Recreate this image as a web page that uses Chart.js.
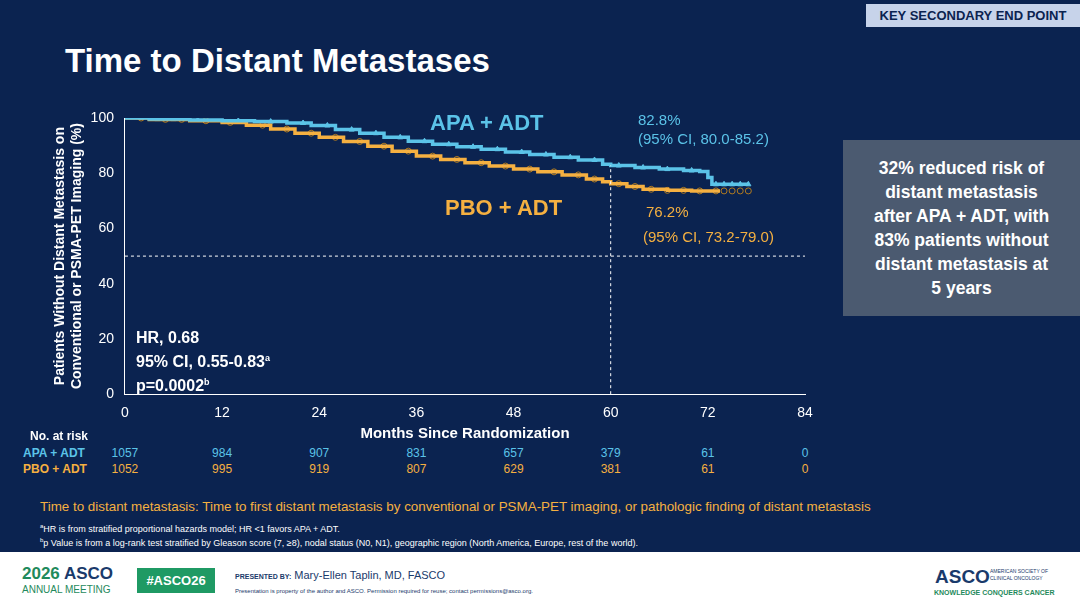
<!DOCTYPE html>
<html><head><meta charset="utf-8">
<script src="https://cdn.jsdelivr.net/npm/chart.js@4"></script>
<style>
body{margin:0;width:1080px;height:608px;overflow:hidden;background:#0b2350;font-family:Arial,"Liberation Sans",sans-serif;position:relative;color:#fff}
.abs{position:absolute}
#wrap{left:30px;top:100px;width:800px;height:345px}
.foot{left:0;top:552px;width:1080px;height:56px;background:#fff;color:#1a3a6b}
</style></head><body>
<div class="abs" style="right:0;top:4px;width:214px;height:23px;background:#c7d3ea;color:#0b2350;font-weight:bold;font-size:13px;line-height:23px;text-align:center">KEY SECONDARY END POINT</div>
<div class="abs" style="left:65px;top:42px;font-size:33px;font-weight:bold">Time to Distant Metastases</div>
<div class="abs" id="wrap"><canvas id="c"></canvas></div>
<div class="abs" style="left:430px;top:110px;font-size:22px;font-weight:bold;color:#5bc3e8">APA + ADT</div>
<div class="abs" style="left:638px;top:110px;font-size:15px;color:#5bc3e8;line-height:19px">82.8%<br>(95% CI, 80.0-85.2)</div>
<div class="abs" style="left:445px;top:195px;font-size:22px;font-weight:bold;color:#f5b041">PBO + ADT</div>
<div class="abs" style="left:646px;top:203px;font-size:15px;color:#f5b041">76.2%</div>
<div class="abs" style="left:643px;top:228px;font-size:15px;color:#f5b041">(95% CI, 73.2-79.0)</div>
<div class="abs" style="left:136px;top:327px;font-size:16px;font-weight:bold;line-height:21px">HR, 0.68<br>95% CI, 0.55-0.83<sup style="font-size:9px">a</sup><br>p=0.0002<sup style="font-size:9px">b</sup></div>
<div class="abs" style="left:843px;top:140px;width:237px;height:176px;background:#4b5a70;font-size:17.5px;font-weight:bold;text-align:center;line-height:24px;box-sizing:border-box;padding:16px 10px 0">32% reduced risk of<br>distant metastasis<br>after APA + ADT, with<br>83% patients without<br>distant metastasis at<br>5 years</div>
<div class="abs" style="left:30px;top:429px;font-size:12px;font-weight:bold">No. at risk</div>
<div class="abs" style="left:23px;top:446px;font-size:12px;font-weight:bold;color:#5bc3e8">APA + ADT</div>
<div class="abs" style="left:23px;top:462px;font-size:12px;font-weight:bold;color:#f5b041">PBO + ADT</div>
<div id="risk"></div>
<div class="abs" style="left:40px;top:499px;font-size:13.4px;color:#f5b041">Time to distant metastasis: Time to first distant metastasis by conventional or PSMA-PET imaging, or pathologic finding of distant metastasis</div>
<div class="abs" style="left:40px;top:522px;font-size:9px;line-height:14px"><sup style="font-size:6px;line-height:0">a</sup>HR is from stratified proportional hazards model; HR &lt;1 favors APA + ADT.<br><sup style="font-size:6px;line-height:0">b</sup>p Value is from a log-rank test stratified by Gleason score (7, ≥8), nodal status (N0, N1), geographic region (North America, Europe, rest of the world).</div>
<div class="abs foot">
 <div class="abs" style="left:22px;top:12px;font-size:17px;font-weight:bold;color:#1f8a5c">2026 <span style="color:#1a3a6b">ASCO</span></div>
 <div class="abs" style="left:22px;top:32px;font-size:10px;color:#1f8a5c">ANNUAL MEETING</div>
 <div class="abs" style="left:137px;top:16px;width:78px;height:25px;background:#1f9a64;color:#fff;font-size:13px;font-weight:bold;text-align:center;line-height:25px">#ASCO26</div>
 <div class="abs" style="left:235px;top:17px;font-size:11px"><span style="font-size:7px;font-weight:bold">PRESENTED BY:</span> Mary-Ellen Taplin, MD, FASCO</div>
 <div class="abs" style="left:235px;top:36px;font-size:6px">Presentation is property of the author and ASCO. Permission required for reuse; contact permissions@asco.org.</div>
 <div class="abs" style="left:935px;top:14px;font-size:19px;font-weight:bold">ASCO</div>
 <div class="abs" style="left:990px;top:16px;font-size:5px;line-height:7px">AMERICAN SOCIETY OF<br>CLINICAL ONCOLOGY</div>
 <div class="abs" style="left:934px;top:37px;font-size:7px;font-weight:bold;color:#1f8a5c">KNOWLEDGE CONQUERS CANCER</div>
</div>
<script>
const months = [0, 12, 24, 36, 48, 60, 72, 84];
const riskApa = [1057, 984, 907, 831, 657, 379, 61, 0];
const riskPbo = [1052, 995, 919, 807, 629, 381, 61, 0];
const apaT = [0, 3, 8, 12, 16, 20, 23, 26, 29, 32, 35, 38, 41, 44, 47, 50, 53, 56, 59, 60, 63, 66, 69, 71, 72, 72.5, 77];
const apaS = [100, 99.6, 99.3, 99.0, 98.7, 98.2, 97.3, 95.8, 94.5, 93.0, 91.6, 90.5, 89.6, 88.7, 87.7, 86.8, 85.8, 84.8, 83.3, 82.8, 82.1, 81.5, 81.0, 80.6, 78.5, 76.0, 76.0];
const pboT = [0, 3, 8, 12, 15, 18, 21, 24, 27, 30, 33, 36, 39, 42, 45, 48, 51, 54, 57, 59, 60, 62, 64, 67, 70, 73.5];
const pboS = [100, 99.5, 99.0, 98.4, 97.4, 96.0, 94.5, 93.0, 91.5, 89.8, 88.0, 86.2, 85.0, 83.8, 82.6, 81.5, 80.5, 79.4, 77.9, 76.9, 76.2, 75.2, 74.2, 73.8, 73.6, 73.6];
const apaCens = [2, 4, 6, 9, 14, 18, 22, 25, 28, 31, 34, 37, 40, 43, 46, 49, 52, 55, 58, 61, 64, 67, 70, 73, 74, 75, 76, 77];
const pboCens = [2, 5, 7, 10, 13, 17, 20, 23, 26, 29, 32, 35, 38, 41, 44, 47, 50, 53, 56, 58, 61, 63, 65, 67, 69, 71, 73, 74, 75, 76, 77];

function survAt(ts, ss, t) {
  let v = ss[0];
  for (let i = 0; i < ts.length; i++) if (ts[i] <= t) v = ss[i];
  return v;
}
const BLUE = '#5bc3e8', ORANGE = '#f5b041';
const xy = (ts, ss) => ts.map((t, i) => ({x: t, y: ss[i]}));

const chart = new Chart(document.getElementById('c'), {
  type: 'line',
  data: {datasets: [
    {data: [{x: 0, y: 50}, {x: 84, y: 50}], borderColor: '#fff', borderWidth: 1, borderDash: [3, 3], pointRadius: 0},
    {data: [{x: 60, y: 0}, {x: 60, y: 82.8}], borderColor: '#fff', borderWidth: 1, borderDash: [3, 3], pointRadius: 0},
    {data: xy(apaT, apaS), stepped: true, borderColor: BLUE, borderWidth: 3.5, pointRadius: 0},
    {data: xy(pboT, pboS), stepped: true, borderColor: ORANGE, borderWidth: 3.5, pointRadius: 0},
    {data: apaCens.map(t => ({x: t, y: survAt(apaT, apaS, t)})), showLine: false, pointStyle: 'triangle', pointRadius: 3, borderColor: BLUE, backgroundColor: BLUE},
    {data: pboCens.map(t => ({x: t, y: survAt(pboT, pboS, t)})), showLine: false, pointStyle: 'circle', pointRadius: 3, borderColor: '#b07a20', backgroundColor: 'transparent', borderWidth: 1}
  ]},
  options: {
    responsive: true, maintainAspectRatio: false, animation: false,
    layout: {padding: {top: 18, right: 25, left: 20, bottom: 2}},
    plugins: {legend: {display: false}, tooltip: {enabled: false}},
    scales: {
      x: {type: 'linear', min: 0, max: 84, grid: {display: false, drawTicks: true}, border: {color: '#fff'},
          ticks: {stepSize: 12, color: '#fff', font: {size: 14}},
          title: {display: true, text: 'Months Since Randomization', color: '#fff', font: {size: 15, weight: 'bold'}, padding: 0}},
      y: {min: 0, max: 100, grid: {display: false}, border: {color: '#fff'},
          ticks: {stepSize: 20, color: '#fff', font: {size: 14}},
          title: {display: true, text: ['Patients Without Distant Metastasis on', 'Conventional or PSMA-PET Imaging (%)'], color: '#fff', font: {size: 14, weight: 'bold'}, padding: 2}}
    }
  }
});

const xs = chart.scales.x;
const risk = document.getElementById('risk');
months.forEach((m, i) => {
  const px = 30 + xs.getPixelForValue(m);
  [[riskApa, 446, BLUE], [riskPbo, 462, ORANGE]].forEach(([arr, top, col]) => {
    const d = document.createElement('div');
    d.className = 'abs';
    d.style.cssText = `left:${px - 30}px;width:60px;text-align:center;top:${top}px;font-size:12px;color:${col}`;
    d.textContent = arr[i];
    risk.appendChild(d);
  });
});
</script>
</body></html>
